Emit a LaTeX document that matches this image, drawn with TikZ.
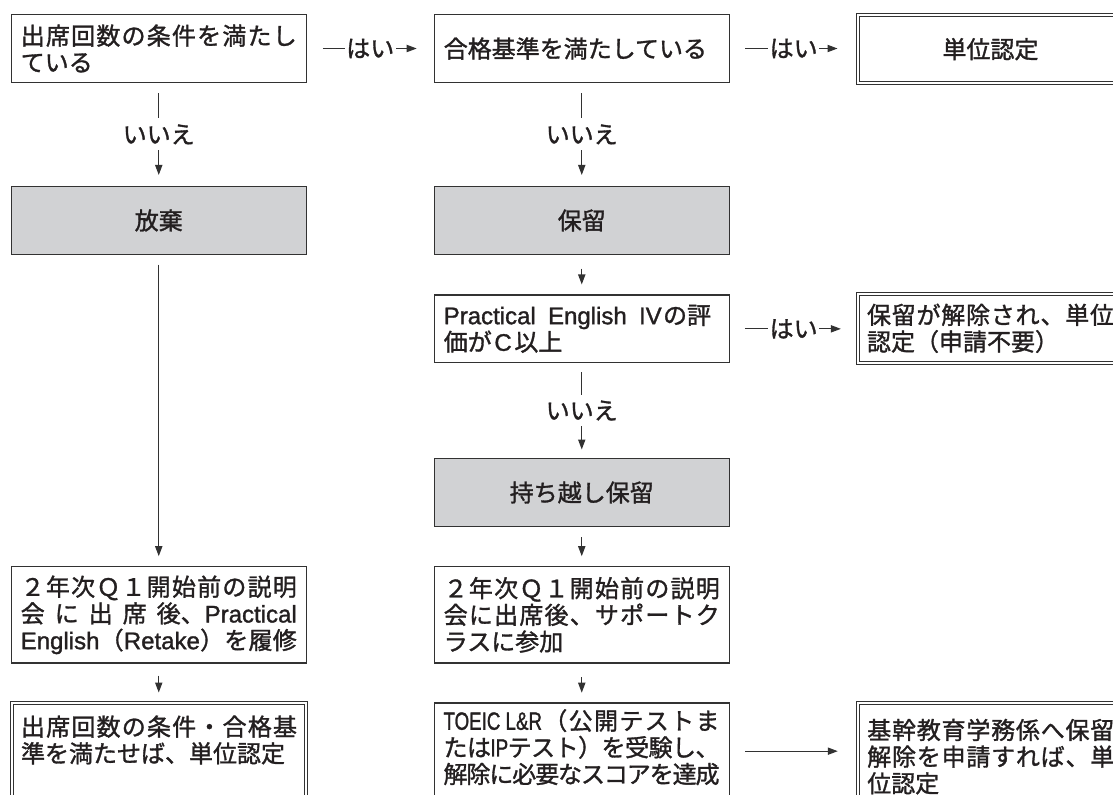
\documentclass[tikz,border=0pt]{standalone}
\usepackage{fontspec}
\usepackage{graphicx}
\setmainfont{Noto Sans CJK JP}[FakeBold=1.3]
\newfontfamily\latfont{Liberation Sans}[FakeBold=1.3]
\usetikzlibrary{arrows.meta,calc}
\definecolor{ink}{RGB}{35,31,32}
\definecolor{edge}{RGB}{50,50,50}
\definecolor{boxgray}{RGB}{209,210,212}
\newcommand\lt[1]{{\latfont #1}}
\newcommand\cnd[1]{\scalebox{0.78}[1.04]{\latfont #1}}
\makeatletter
\def\js@stop{}
\def\js@stopmac{\js@stop}
\newcommand\jspread[2]{\hbox to #1{\js@first#2\js@stop}}
\def\js@first#1{{#1}\js@next}
\def\js@next#1{\def\js@tmp{#1}\ifx\js@tmp\js@stopmac\else\hss{#1}\expandafter\js@next\fi}
\makeatother
\newcommand\jl[2]{\hbox to #1{#2\hfil}}
\newcommand\jlines[1]{\vbox{\baselineskip=20pt\lineskiplimit=-30pt\lineskip=0pt #1}}
\begin{document}
\begin{tikzpicture}[x=0.75pt,y=-0.75pt,
  every node/.style={font=\fontsize{18pt}{20pt}\selectfont, text=ink},
  box/.style={draw=edge, line width=0.8pt, fill=white, minimum width=221.25pt, inner sep=0pt},
  graybox/.style={box, fill=boxgray},
  dbox/.style={draw=edge, line width=0.7pt, double=white, double distance=1.6pt, fill=white, inner sep=0pt},
  conn/.style={draw=edge, line width=0.85pt},
  arr/.style={conn, -{Triangle[length=7.5pt,width=5.4pt]}},
  yes/.style={fill=white, inner xsep=1.1pt, inner ysep=0pt},
  no/.style={fill=white, inner xsep=0pt, inner ysep=4.5pt},
  txt/.style={inner sep=0pt, anchor=base west}]
\useasboundingbox (0,0) rectangle (1113,795);
\clip (0,0) rectangle (1113,795);
\fill[white] (0,0) rectangle (1113,795);

% row 1
\node[box, minimum height=50.7pt] (L1) at (158.75,48.5)
  {\jlines{\jspread{207pt}{出席回数の条件を満たし}\jl{207pt}{ている}}};
\node[box, minimum height=50.7pt] (M1) at (581.75,48.5)
  {\jlines{\jl{207pt}{合格基準を満たしている}}};
\node[dbox, minimum width=198.75pt, minimum height=51.2pt] (R1) at (990.5,49.2) {単位認定};

% row 2
\node[graybox, minimum height=51pt] (L2) at (158.75,220.5) {放棄};
\node[graybox, minimum height=51pt] (M2) at (581.75,220.5) {保留};

% row 3
\node[box, minimum height=50.8pt] (M3) at (581.75,328.85)
  {\jlines{\hbox to 207pt{\jspread{200.5pt}{{\lt{Practical}}{\lt{English}}{\lt{IV}\kern1pt の評}}\hfil}\jl{207pt}{価が\kern2pt\lt{C}\kern2pt 以上}}};
\node[dbox, minimum width=198.75pt, minimum height=51.75pt] (R5) at (990.5,328.3)
  {\jlines{\jspread{185.25pt}{保留が解除され、単位}\jl{185.25pt}{認定（申請不要）}}};

% row 4
\node[graybox, minimum height=51.3pt] (M4) at (581.75,492.5) {持ち越し保留};

% row 5
\node[box, minimum height=72.2pt] (L6) at (158.75,614.85)
  {\jlines{\jspread{207pt}{２年次Ｑ１開始前の説明}\jspread{207pt}{会に出席{後、\lt{Practical}}}\jspread{207pt}{{\lt{English}}（{\lt{Retake}}）を履修}}};
\node[box, minimum height=72.2pt] (M6) at (581.75,614.85)
  {\jlines{\jspread{207pt}{２年次Ｑ１開始前の説明}\jspread{207pt}{会に出席後、サポートク}\jl{207pt}{ラスに参加}}};

% row 6 (cut by the lower edge)
\node[dbox, minimum width=220.5pt, minimum height=87.75pt] (L8) at (158.75,761.5) {};
\node[box, minimum height=87.75pt] (M7) at (581.75,761.5) {};
\node[dbox, minimum width=198.75pt, minimum height=87.75pt] (R9) at (990.5,761.5) {};
\node[txt] (L8t) at (20.75,762.4)
  {\jlines{\jspread{207pt}{出席回数の条件・合格基}\jl{207pt}{準を満たせば、単位認定}}};
\node[txt] (M7t) at (443.25,783.1)
  {\jlines{\jspread{207pt}{{\cnd{TOEIC L\&R}}（公開テストま}\jspread{207pt}{たは{\cnd{IP}}テスト）を受験し、}\jspread{207pt}{解除に必要なスコアを達成}}};
\node[txt] (R9t) at (867,792.4)
  {\jlines{\jspread{185.25pt}{基幹教育学務係へ保留}\jspread{185.25pt}{解除を申請すれば、単}\jl{185.25pt}{位認定}}};

% connectors
\draw[arr, shorten <=12pt, shorten >=12.75pt] (L1.east) -- node[yes]{はい} (M1.west);
\draw[arr, shorten <=11.6pt, shorten >=15pt] (M1.east) -- node[yes]{はい} (M1.east -| R1.west);
\draw[arr, shorten <=7.9pt, shorten >=8.25pt] (L1.south) -- node[no]{いいえ} (L2.north);
\draw[arr, shorten <=7.9pt, shorten >=8.25pt] (M1.south) -- node[no]{いいえ} (M2.north);
\draw[arr, shorten <=7.1pt, shorten >=7.5pt] (L2.south) -- (L6.north);
\draw[arr, shorten <=10.1pt, shorten >=7.5pt] (M2.south) -- (M3.north);
\draw[arr, shorten <=6.75pt, shorten >=6.2pt] (M3.south) -- node[no]{いいえ} (M4.north);
\draw[arr, shorten <=11.4pt, shorten >=12.5pt] (M3.east) -- node[yes]{はい} (M3.east -| R5.west);
\draw[arr, shorten <=7.5pt, shorten >=7.5pt] (M4.south) -- (M6.north);
\draw[arr, shorten <=9pt, shorten >=7.5pt] (L6.south) -- (L8.north);
\draw[arr, shorten <=10.3pt, shorten >=7.3pt] (M6.south) -- (M7.north);
\coordinate (M7a) at ($(M7.north east)+(0,48.7)$);
\draw[arr, shorten <=11.6pt, shorten >=14.8pt] (M7a) -- (M7a -| R9.west);
\end{tikzpicture}
\end{document}
